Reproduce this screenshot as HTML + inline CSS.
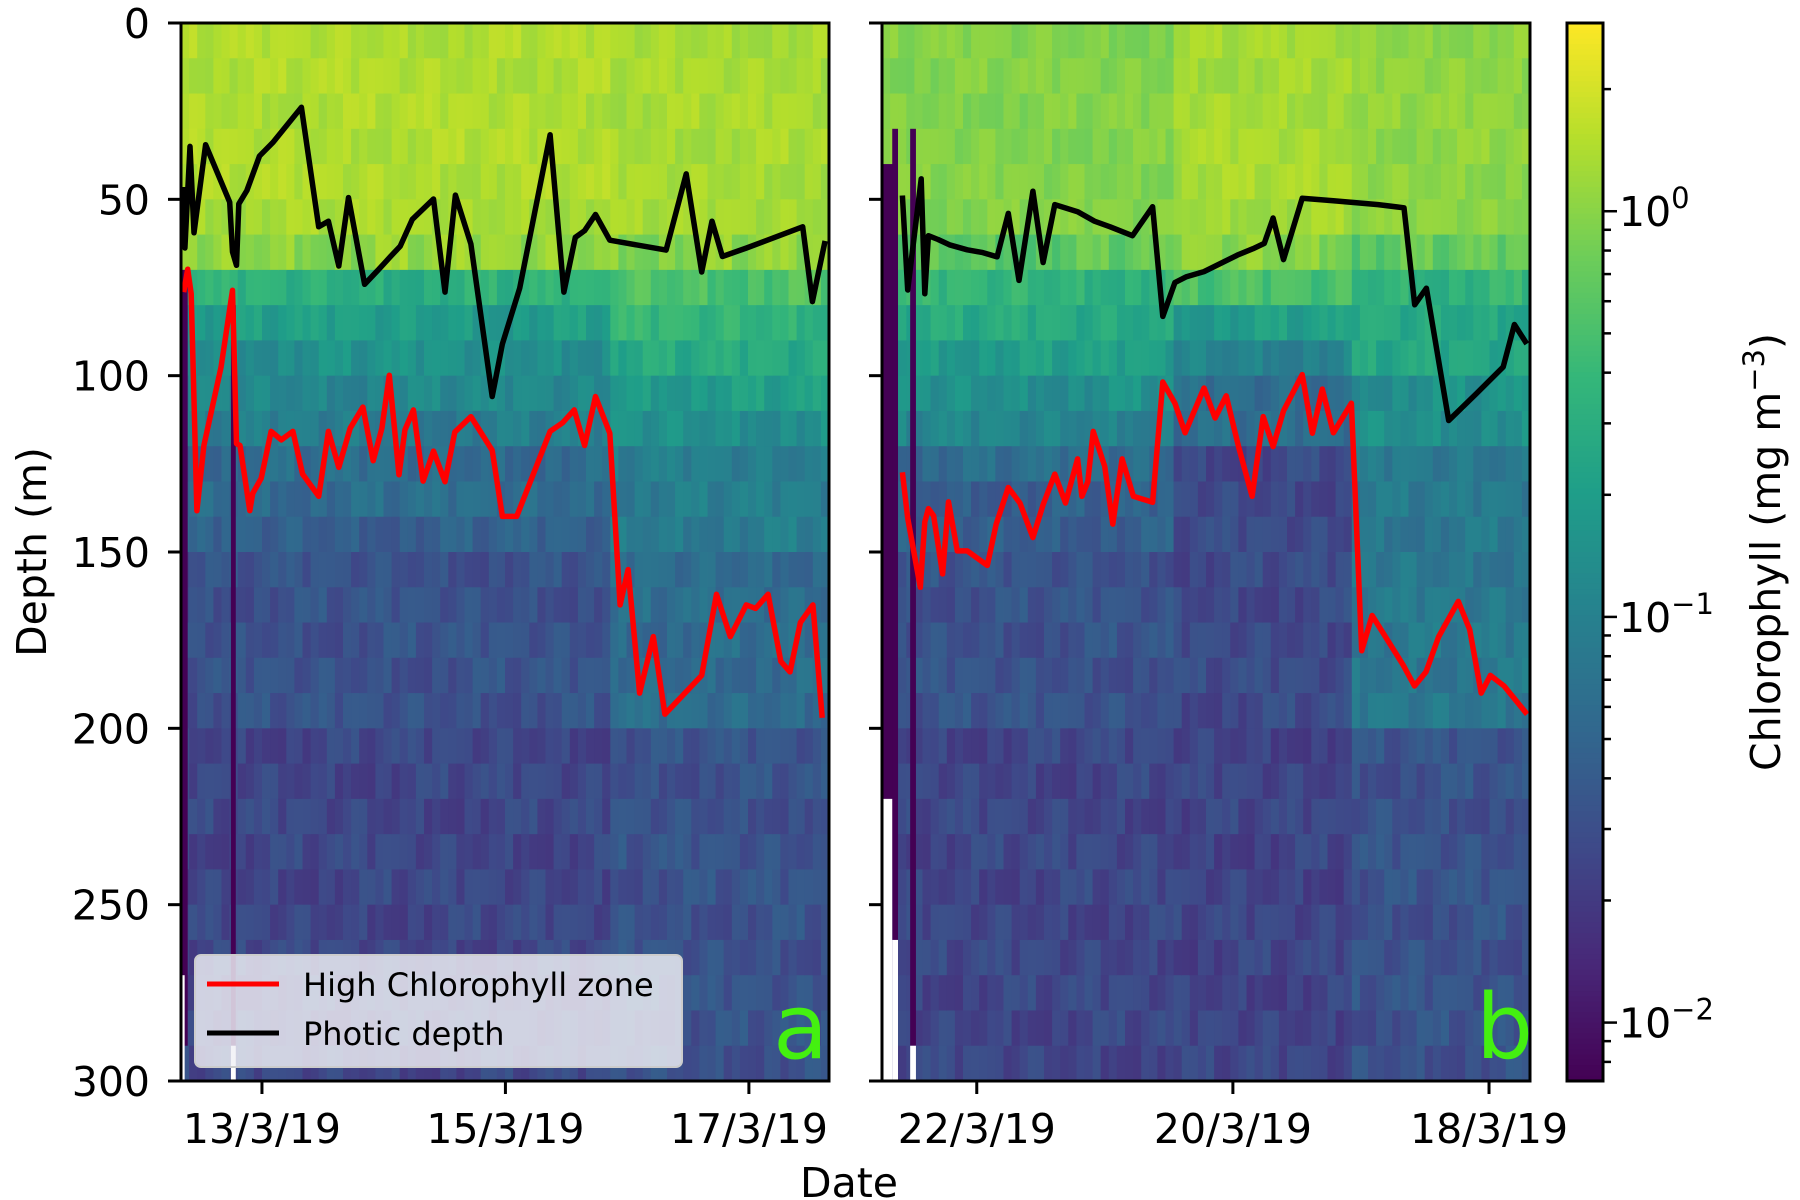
<!DOCTYPE html>
<html><head><meta charset="utf-8"><style>
html,body{margin:0;padding:0;background:#fff;}
svg{display:block;font-family:"DejaVu Sans","Liberation Sans",sans-serif;}
</style></head><body>
<svg id="chart" width="1800" height="1200" viewBox="0 0 1800 1200" xmlns="http://www.w3.org/2000/svg">
<g id="heatA"></g>
<g id="heatB"></g>
<g id="linesA"></g>
<g id="linesB"></g>
<g id="cbar"></g>
<g id="axes"></g>
</svg>
<script>
// ---------- data ----------
const depthTicks = [0, 50, 100, 150, 200, 250, 300];
const dateTicksA = [13, 15, 17];
const dateLabelsA = ["13/3/19", "15/3/19", "17/3/19"];
const dateTicksB = [22, 20, 18];
const dateLabelsB = ["22/3/19", "20/3/19", "18/3/19"];
const cbarTickExp = [0, -1, -2];

// log10 chlorophyll per 10 m depth row (30 rows, 0-300 m)
const profAEarly = [0.15,0.15,0.15,0.15,0.15,0.12,0.03,-0.5,-0.71,-0.84,-0.94,-1.05,-1.23,-1.23,-1.36,-1.49,-1.49,-1.49,-1.49,-1.49,-1.6,-1.6,-1.6,-1.6,-1.6,-1.6,-1.6,-1.6,-1.6,-1.6];
const profALate  = [0.12,0.12,0.12,0.12,0.12,0.1,0.0,-0.27,-0.45,-0.58,-0.71,-0.84,-1.05,-1.05,-1.05,-1.23,-1.23,-1.23,-1.23,-1.23,-1.49,-1.49,-1.49,-1.49,-1.49,-1.49,-1.49,-1.49,-1.49,-1.49];
const profBEarly = [-0.03,-0.03,-0.03,-0.03,-0.03,-0.03,-0.19,-0.45,-0.58,-0.71,-0.84,-0.97,-1.23,-1.36,-1.36,-1.49,-1.49,-1.49,-1.49,-1.49,-1.6,-1.6,-1.6,-1.6,-1.6,-1.6,-1.6,-1.6,-1.6,-1.6];
const profBMid   = [0.1,0.1,0.12,0.12,0.12,0.1,0.0,-0.32,-0.71,-0.97,-1.23,-1.23,-1.57,-1.57,-1.57,-1.57,-1.57,-1.57,-1.57,-1.57,-1.62,-1.62,-1.62,-1.62,-1.62,-1.62,-1.62,-1.62,-1.62,-1.62];
const profBLate  = [0.02,0.02,0.02,0.02,0.02,0.0,-0.19,-0.45,-0.58,-0.63,-0.84,-0.84,-1.10,-1.10,-1.10,-1.10,-1.10,-1.10,-1.10,-1.10,-1.49,-1.49,-1.49,-1.49,-1.49,-1.49,-1.49,-1.49,-1.49,-1.49];
const splitA = 15.89;
const splitB1 = 20.48, splitB2 = 19.04;
const colOffsets = [0.05,-0.08,0.12,-0.03,0.09,-0.12,0.02,0.14,-0.06,0.04,-0.1,0.08,-0.02,0.11,-0.07,0.03,0.13,-0.11,0.06,-0.04,0.1,-0.09,0.01,0.07,-0.13,0.05,0.12,-0.05,0.0,0.09,-0.08,0.04,-0.1,0.11,-0.03,0.06,-0.12,0.08,0.02,-0.06];

// panel a series (day of March, depth m)
const photicDayA = [12.348,12.367,12.409,12.442,12.537,12.735,12.758,12.791,12.810,12.876,12.980,13.089,13.324,13.466,13.546,13.631,13.711,13.843,13.961,14.056,14.136,14.235,14.409,14.504,14.589,14.716,14.891,14.975,15.117,15.367,15.480,15.574,15.650,15.740,15.857,16.320,16.485,16.612,16.697,16.782,16.980,17.442,17.522,17.626];
const photicDepthA = [46.5,63.8,35.0,59.5,34.5,50.8,64.9,68.7,51.3,47.5,37.7,33.9,23.9,57.8,56.2,68.9,49.5,74.1,69.8,66.2,63.3,55.7,49.9,76.3,48.8,62.7,105.9,91.0,75.2,31.7,76.3,60.8,58.9,54.3,61.6,64.4,42.8,70.6,56.2,66.2,63.8,57.8,79.0,61.8];
const hczDayA = [12.357,12.390,12.419,12.466,12.523,12.664,12.758,12.791,12.820,12.900,12.924,12.994,13.075,13.159,13.254,13.334,13.466,13.546,13.631,13.725,13.829,13.914,13.985,14.046,14.126,14.174,14.244,14.324,14.409,14.504,14.584,14.716,14.891,14.975,15.093,15.367,15.471,15.565,15.650,15.740,15.857,15.942,16.008,16.102,16.215,16.310,16.612,16.734,16.847,16.979,17.055,17.158,17.262,17.338,17.423,17.526,17.602];
const hczDepthA = [76.3,69.8,76.8,138.3,119.8,97.5,75.8,119.3,119.8,138.3,133.4,129.1,115.8,118.2,115.8,127.9,134.2,115.8,126.0,114.9,108.9,124.1,114.9,99.9,128.1,115.4,109.7,129.9,121.4,130.1,116.0,111.6,121.2,139.9,139.9,115.8,113.3,109.7,119.8,105.9,116.3,165,155,190,174,196,185,162,174,165,166,162,181,184,170,165,197];

// panel b series
const photicDayB = [22.581,22.539,22.434,22.406,22.378,22.302,22.214,22.075,21.953,21.841,21.754,21.670,21.562,21.482,21.391,21.213,21.081,20.959,20.784,20.627,20.547,20.453,20.366,20.226,19.965,19.843,19.755,19.686,19.605,19.459,19.215,18.866,18.664,18.580,18.489,18.315,18.099,17.889,17.802,17.705];
const photicDepthB = [48.9,75.7,44.2,76.8,60.3,61.4,62.9,64.3,65.1,66.3,54.0,73.0,47.7,67.9,51.5,53.5,56.2,57.8,60.3,52.1,83.2,73.6,72.0,70.5,65.8,64.0,62.5,55.3,67.1,49.7,50.4,51.5,52.4,79.9,75.2,112.7,105.1,97.5,85.5,91.0];
const hczDayB = [22.581,22.539,22.441,22.406,22.378,22.337,22.267,22.221,22.152,22.075,21.918,21.848,21.754,21.663,21.562,21.482,21.391,21.307,21.213,21.179,21.133,21.091,21.001,20.938,20.865,20.777,20.627,20.547,20.453,20.373,20.226,20.139,20.052,19.954,19.850,19.763,19.686,19.605,19.459,19.379,19.302,19.215,19.075,18.994,18.913,18.671,18.582,18.492,18.393,18.240,18.151,18.061,17.989,17.882,17.703];
const hczDepthB = [127.4,140.4,160.0,141.5,137.7,139.7,156.2,135.8,149.7,149.7,153.8,142.1,131.7,136.1,145.9,136.6,127.9,136.1,123.6,134.2,130.1,115.8,125.7,142.1,123.6,134.2,135.9,101.8,107.8,116.2,103.5,112.0,105.7,120.4,134.2,111.6,120.1,110.0,99.7,116.3,103.8,116.2,107.8,178,168,182,188,184,174,164,172,190,185,188,196];

// ---------- geometry ----------
const NS = "http://www.w3.org/2000/svg";
const TOP = 23, BOT = 1081;
const A = {x0:181, x1:829, d0:12.335, d1:17.658};
const B = {x0:882, x1:1530, d0:22.74, d1:17.68};
const VMIN = -2.144, VMAX = 0.464;
function yScale(d){ return TOP + d*(BOT-TOP)/300; }
function xScale(P, day){ return P.x0 + (day-P.d0)/(P.d1-P.d0)*(P.x1-P.x0); }
const VIR = [[68,1,84],[72,40,120],[62,74,137],[49,104,142],[38,130,142],[31,158,137],[53,183,121],[109,205,89],[180,222,44],[253,231,37]];
function viridis(t){
  t = Math.max(0, Math.min(1, t));
  const p = t*(VIR.length-1), i = Math.min(VIR.length-2, Math.floor(p)), f = p-i;
  const c = VIR[i].map((v,k)=>Math.round(v+(VIR[i+1][k]-v)*f));
  return `rgb(${c[0]},${c[1]},${c[2]})`;
}
function colorFor(logv){ return viridis((logv-VMIN)/(VMAX-VMIN)); }
function el(tag, attrs, parent){
  const e = document.createElementNS(NS, tag);
  for (const k in attrs) e.setAttribute(k, attrs[k]);
  parent.appendChild(e); return e;
}

function drawHeat(P, g, pick, ncol){
  const w = (P.x1-P.x0)/ncol;
  for (let c=0;c<ncol;c++){
    const day = P.d0 + (c+0.5)/ncol*(P.d1-P.d0);
    const prof = pick(day);
    for (let r=0;r<30;r++){
      const v = prof[r] + colOffsets[(c*7+r*3)%colOffsets.length]*(r<6?0.6:1);
      const rect = el('rect', {x:(P.x0+c*w).toFixed(2), y:yScale(r*10).toFixed(2), width:(w+0.6).toFixed(2), height:(yScale(10)-yScale(0)+0.6).toFixed(2), fill:colorFor(v)}, g);
      
      
    }
  }
}
const gA = document.getElementById('heatA'), gB = document.getElementById('heatB');
drawHeat(A, gA, d => d < splitA ? profAEarly : profALate, 80);
drawHeat(B, gB, d => d > splitB1 ? profBEarly : (d > splitB2 ? profBMid : profBLate), 80);

// dark / missing strips
function strip(P, g, dA, dB, z0, z1, fill){
  const xa = xScale(P,dA), xb = xScale(P,dB);
  const r = el('rect',{x:Math.min(xa,xb), y:yScale(z0), width:Math.abs(xb-xa), height:yScale(z1)-yScale(z0), fill:fill}, g);
  
  
}
const DARK = "rgb(68,1,84)";
strip(A,gA,12.335,12.39,70,290,DARK);
strip(A,gA,12.335,12.365,270,300,"#fff");
strip(A,gA,12.745,12.785,80,290,DARK);
strip(A,gA,12.745,12.785,290,300,"#fff");
strip(B,gB,22.74,22.615,40,240,DARK);
strip(B,gB,22.66,22.615,30,260,DARK);
strip(B,gB,22.74,22.66,220,300,"#fff");
strip(B,gB,22.66,22.615,260,300,"#fff");
strip(B,gB,22.52,22.475,30,290,DARK);
strip(B,gB,22.52,22.475,290,300,"#fff");

function drawLine(P, g, days, depths, color, name){
  const pts = days.map((d,i)=>xScale(P,d).toFixed(1)+','+yScale(depths[i]).toFixed(1)).join(' ');
  const l = el('polyline',{points:pts, fill:'none', stroke:color, 'stroke-width':5.5, 'stroke-linejoin':'round'}, g);
  
  
}
drawLine(A, document.getElementById('linesA'), photicDayA, photicDepthA, '#000', 'photic-depth-line-a');
drawLine(A, document.getElementById('linesA'), hczDayA, hczDepthA, '#ff0000', 'high-chlorophyll-line-a');
drawLine(B, document.getElementById('linesB'), photicDayB, photicDepthB, '#000', 'photic-depth-line-b');
drawLine(B, document.getElementById('linesB'), hczDayB, hczDepthB, '#ff0000', 'high-chlorophyll-line-b');

// colorbar
const cb = document.getElementById('cbar');
const CX0 = 1567, CX1 = 1603;
const N = 200;
for (let i=0;i<N;i++){
  const y0 = TOP + i*(BOT-TOP)/N;
  const v = VMAX - (i+0.5)/N*(VMAX-VMIN);
  el('rect',{x:CX0, y:y0.toFixed(2), width:CX1-CX0, height:((BOT-TOP)/N+0.8).toFixed(2), fill:colorFor(v)}, cb);
}
function cbY(lv){ return TOP + (VMAX-lv)/(VMAX-VMIN)*(BOT-TOP); }
const ax = document.getElementById('axes');
for (let e=-3;e<=0;e++){
  for (let k=1;k<=9;k++){
    const lv = e + Math.log10(k);
    if (lv < VMIN || lv > VMAX) continue;
    const y = cbY(lv);
    el('line',{x1:CX1, x2:CX1+(k===1?14:8), y1:y, y2:y, stroke:'#000','stroke-width':2.5}, ax);
  }
}
cbarTickExp.forEach(e=>{
  const t = el('text',{x:1619, y:cbY(e)+15, 'font-size':41, fill:'#000'}, ax);
  
  
  t.innerHTML = `10<tspan dy="-18" font-size="29">${e===0?'0':'\u2212'+(-e)}</tspan>`;
});
el('rect',{x:CX0, y:TOP, width:CX1-CX0, height:BOT-TOP, fill:'none', stroke:'#000','stroke-width':3}, ax);
const cl = el('text',{x:0,y:0,'font-size':41,'text-anchor':'middle', transform:`translate(1780,${(TOP+BOT)/2}) rotate(-90)`}, ax);


cl.innerHTML = 'Chlorophyll (mg m<tspan dy="-16" font-size="29">\u22123</tspan><tspan dy="16">)</tspan>';

// axes frames, ticks
[A,B].forEach((P,pi)=>{
  el('rect',{x:P.x0, y:TOP, width:P.x1-P.x0, height:BOT-TOP, fill:'none', stroke:'#000','stroke-width':3}, ax);
  depthTicks.forEach(d=>{
    const y = yScale(d);
    el('line',{x1:P.x0-13, x2:P.x0, y1:y, y2:y, stroke:'#000','stroke-width':3}, ax);
    if (pi===0){
      const t = el('text',{x:150, y:y+15, 'font-size':41,'text-anchor':'end'}, ax);
      
      
      t.textContent = d;
    }
  });
  const ticks = pi===0 ? dateTicksA : dateTicksB, labels = pi===0 ? dateLabelsA : dateLabelsB;
  ticks.forEach((d,i)=>{
    const x = xScale(P,d);
    el('line',{x1:x, x2:x, y1:BOT, y2:BOT+13, stroke:'#000','stroke-width':3}, ax);
    const t = el('text',{x:x, y:1143,'font-size':41,'text-anchor':'middle'}, ax);
    
    
    t.textContent = labels[i];
  });
});
</script>
<script>
const ax2 = document.getElementById('axes');
function T(attrs, txt, name){
  const t = document.createElementNS("http://www.w3.org/2000/svg",'text');
  for (const k in attrs) t.setAttribute(k, attrs[k]);
  t.textContent = txt;
  
  
  ax2.appendChild(t); return t;
}
T({x:0,y:0,'font-size':41,'text-anchor':'middle',transform:'translate(46,552) rotate(-90)'}, 'Depth (m)', 'y-axis-title');
T({x:849,y:1197,'font-size':41,'text-anchor':'middle'}, 'Date', 'x-axis-title');
T({x:773,y:1058,'font-size':90,fill:'#44f010'}, 'a', 'panel-label-a');
T({x:1476,y:1058,'font-size':90,fill:'#44f010'}, 'b', 'panel-label-b');
// legend
const lg = document.createElementNS("http://www.w3.org/2000/svg",'g');


ax2.appendChild(lg);
lg.innerHTML = '<rect x="195" y="955" width="487" height="112" rx="6" fill="rgba(240,240,245,0.82)" stroke="#ccc" stroke-width="2"/>'
 + '<line x1="207" x2="279" y1="984" y2="984" stroke="#ff0000" stroke-width="5"/>'
 + '<line x1="207" x2="279" y1="1033" y2="1033" stroke="#000" stroke-width="5"/>'
 + '<text x="303" y="996" font-size="32">High Chlorophyll zone</text>'
 + '<text x="303" y="1045" font-size="32">Photic depth</text>';
</script>
</body></html>
